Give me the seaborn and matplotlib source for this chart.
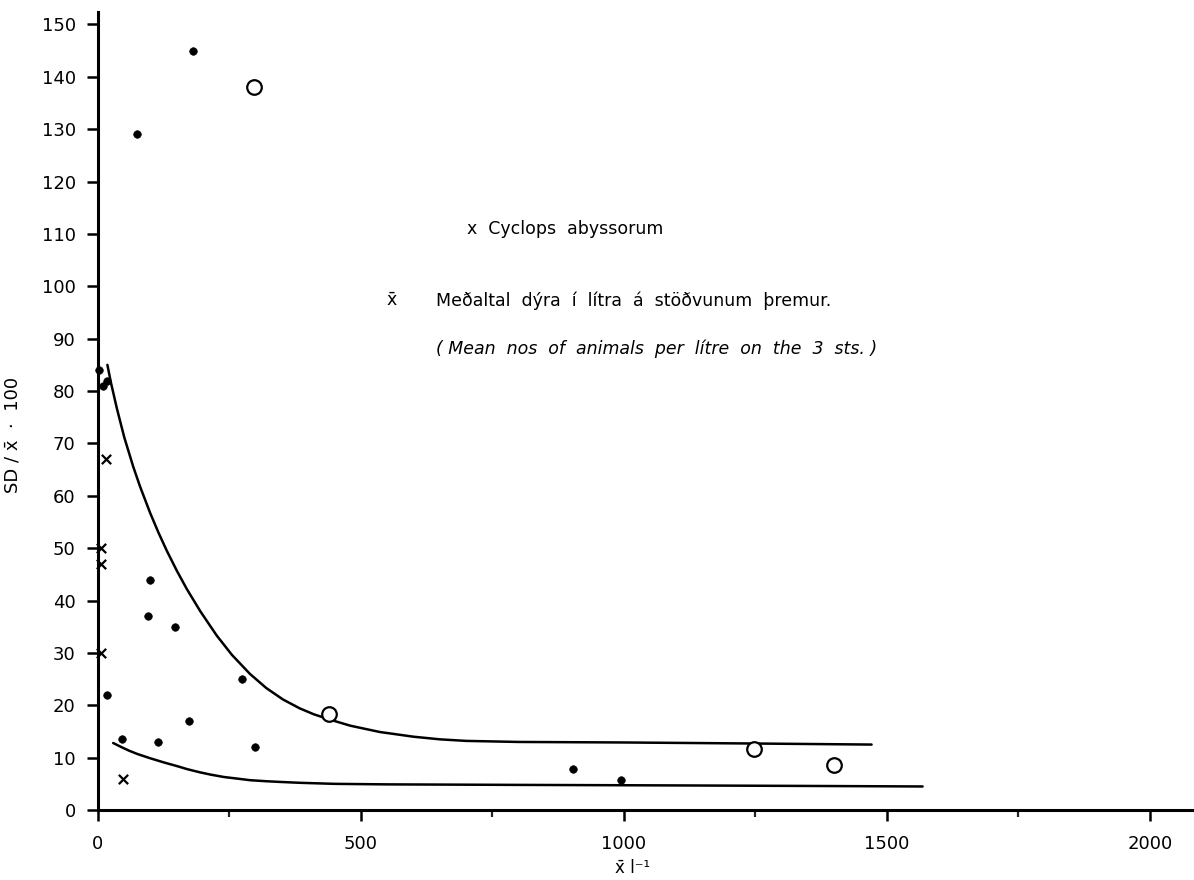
import pandas as pd
import matplotlib
matplotlib.use("Agg")
import matplotlib.pyplot as plt
import seaborn as sns
from matplotlib.ticker import MultipleLocator

# --- data ---
dots_x = [2, 10, 17, 74, 180, 99, 95, 146, 17, 274, 173, 46, 114, 298, 903, 994]
dots_y = [84, 81, 82, 129, 145, 44, 37, 35, 22, 25, 17, 13.5, 13, 12, 7.8, 5.7]

circles_x = [297, 440, 1247, 1399]
circles_y = [138, 18.3, 11.6, 8.6]

crosses_x = [15, 6, 6, 6, 48]
crosses_y = [67, 50, 47, 30, 6]

# upper curve
upper_x = [18, 25, 36, 50, 67, 80, 99, 115, 131, 150, 169, 195, 226, 255, 289,
           320, 352, 384, 410, 440, 480, 536, 600, 650, 700, 800, 1000, 1250, 1471]
upper_y = [85, 81.5, 76.7, 71.2, 65.6, 61.8, 56.8, 53.0, 49.5, 45.7, 42.2, 37.9, 33.3, 29.6, 26.0,
           23.3, 21.1, 19.4, 18.3, 17.3, 16.1, 14.9, 14, 13.5, 13.2, 13, 12.9, 12.7, 12.5]

# lower curve
lower_x = [29, 45, 60, 75, 99, 125, 150, 170, 194, 215, 240, 265, 289, 320, 350, 384,
           450, 550, 800, 1100, 1350, 1568]
lower_y = [12.8, 12.0, 11.3, 10.7, 9.9, 9.1, 8.4, 7.8, 7.2, 6.75, 6.3, 6.0, 5.7, 5.5, 5.35, 5.2,
           5.0, 4.9, 4.8, 4.7, 4.6, 4.5]

sns.set_theme(style="ticks")
plt.rcParams['font.family'] = ['DejaVu Sans']
plt.rcParams['text.color'] = 'black'
plt.rcParams['axes.labelcolor'] = 'black'

fig = plt.figure(figsize=(11.94, 8.8), dpi=100)
ax = fig.add_axes([0.082, 0.0795, 0.918, 0.9065])

upper = pd.DataFrame({'x': upper_x, 'y': upper_y})
lower = pd.DataFrame({'x': lower_x, 'y': lower_y})
sns.lineplot(data=upper, x='x', y='y', sort=False, estimator=None, color='black', linewidth=1.8, ax=ax)
sns.lineplot(data=lower, x='x', y='y', sort=False, estimator=None, color='black', linewidth=1.8, ax=ax)

dots = pd.DataFrame({'x': dots_x, 'y': dots_y})
circles = pd.DataFrame({'x': circles_x, 'y': circles_y})
crosses = pd.DataFrame({'x': crosses_x, 'y': crosses_y})
sns.scatterplot(data=dots, x='x', y='y', color='black', s=30, marker='o', edgecolor='black', ax=ax, clip_on=False, zorder=3)
sns.scatterplot(data=circles, x='x', y='y', s=110, marker='o', facecolor='white', edgecolor='black', linewidth=1.6, ax=ax, clip_on=False, zorder=3)
sns.scatterplot(data=crosses, x='x', y='y', s=45, marker='x', color='black', linewidth=1.6, ax=ax, clip_on=False, zorder=3)

ax.set_xlim(0, 2084)
ax.set_ylim(0, 152.3)
ax.xaxis.set_major_locator(MultipleLocator(500))
ax.xaxis.set_minor_locator(MultipleLocator(250))
ax.yaxis.set_major_locator(MultipleLocator(10))
sns.despine(ax=ax)
for side in ['left', 'bottom']:
    ax.spines[side].set_linewidth(2.2)
    ax.spines[side].set_color('black')
ax.tick_params(axis='both', which='major', direction='out', length=8, width=1.8,
               labelsize=13, colors='black', pad=8)
ax.tick_params(axis='x', which='minor', direction='out', length=5, width=1.6)
ax.tick_params(axis='x', which='major', pad=10)

ax.set_xlabel("x\u0304 l\u207b\u00b9", fontsize=12, color='black')
ax.set_ylabel("SD / x\u0304  \u00b7  100", fontsize=13, color='black')
ax.xaxis.set_label_coords(0.488, -0.062)
ax.yaxis.set_label_coords(-0.07, 0.47)

ax.text(701, 110.9, "x  Cyclops  abyssorum", fontsize=12.5, va='center', ha='left', color='black')
ax.text(548, 97.3, "x\u0304", fontsize=12.5, va='center', ha='left', color='black')
ax.text(643, 97.3, "Meðaltal  dýra  í  lítra  á  stöðvunum  þremur.", fontsize=12.5,
        va='center', ha='left', color='black')
ax.text(643, 88, "( Mean  nos  of  animals  per  lítre  on  the  3  sts. )", fontsize=12.5,
        style='italic', va='center', ha='left', color='black')

fig.savefig("out.png", dpi=100)
plt.close(fig)
